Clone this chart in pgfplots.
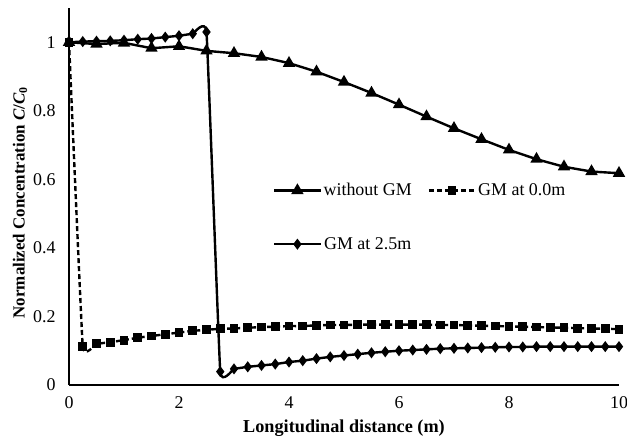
\documentclass[border=0pt]{standalone}
\usepackage{fontspec}
\setmainfont{Liberation Serif}
\usepackage{pgfplots}
\pgfplotsset{compat=1.18}
\begin{document}
\begin{tikzpicture}
\begin{axis}[
 scale only axis, width=550bp, height=377bp,
 xmin=0, xmax=10, ymin=0, ymax=1.1,
 axis x line=bottom, axis y line=left,
 axis line style={line width=1.6bp,-},
 xtick={0,2,4,6,8,10}, ytick={0,0.2,0.4,0.6,0.8,1},
 major tick length=0pt,
 /pgf/number format/assume math mode=true,
 tick label style={font=\fontsize{18}{21}\selectfont},
 yticklabel style={xshift=-10bp},
 xticklabel style={yshift=-8bp},
 xlabel={Longitudinal distance (m)},
 ylabel={Normalized Concentration \textit{C}/\textit{C}\textsubscript{0}},
 xlabel style={font=\fontsize{18.3}{21}\selectfont\bfseries, at={(rel axis cs:0.5,0)}, anchor=base, yshift=-47bp},
 ylabel style={font=\fontsize{17}{20}\selectfont\bfseries, at={(rel axis cs:0,0.5)}, anchor=center, yshift=49bp, xshift=-6bp},
 legend columns=2,
 legend style={at={(axis cs:3.655,0.6)}, anchor=north west, draw=none, fill=none,
   font=\fontsize{18}{21}\selectfont, row sep=36bp,
   /tikz/every even column/.append style={column sep=14bp}},
 legend image code/.code={\draw[mark repeat=2,mark phase=2,#1] plot coordinates {(0bp,0bp)(23bp,0bp)(46bp,0bp)};},
 every axis plot/.append style={line width=2.4bp},
]
\coordinate (ll) at (rel axis cs:0,0);
\coordinate (ur) at (rel axis cs:1,1);
\addplot[black, line width=2.4bp, smooth, tension=0.15, mark=triangle*, mark size=4.8bp, mark options={solid}] coordinates {
(0,1.000)(0.5,0.995)(1,0.998)(1.5,0.983)(2,0.988)(2.5,0.975)(3,0.968)(3.5,0.957)
(4,0.939)(4.5,0.914)(5,0.884)(5.5,0.852)(6,0.818)(6.5,0.783)(7,0.749)(7.5,0.717)
(8,0.686)(8.5,0.659)(9,0.637)(9.5,0.623)(10,0.618)};
\addlegendentry{without GM}
\addplot[black, line width=2.4bp, smooth, tension=0.15, dash pattern=on 5bp off 3bp, mark=square*, mark size=3.2bp, mark options={solid}] coordinates {
(0,1.000)(0.25,0.112)(0.5,0.120)(0.75,0.125)(1,0.131)(1.25,0.138)(1.5,0.143)(1.75,0.148)
(2,0.153)(2.25,0.158)(2.5,0.161)(2.75,0.164)(3,0.165)(3.25,0.167)(3.5,0.169)(3.75,0.170)
(4,0.172)(4.25,0.172)(4.5,0.174)(4.75,0.175)(5,0.175)(5.25,0.176)(5.5,0.176)(5.75,0.176)
(6,0.176)(6.25,0.176)(6.5,0.176)(6.75,0.175)(7,0.175)(7.25,0.174)(7.5,0.173)(7.75,0.172)
(8,0.171)(8.25,0.170)(8.5,0.169)(8.75,0.168)(9,0.167)(9.25,0.166)(9.5,0.165)(9.75,0.164)(10,0.163)};
\addlegendentry{GM at 0.0m}
\addplot[black, line width=2.4bp, smooth, tension=0.15, mark=diamond*, mark size=3.6bp, mark options={solid}] coordinates {
(0,1.000)(0.25,1.002)(0.5,1.003)(0.75,1.004)(1,1.006)(1.25,1.009)(1.5,1.011)(1.75,1.015)
(2,1.019)(2.25,1.025)(2.5,1.030)(2.75,0.039)(3,0.047)(3.25,0.053)(3.5,0.057)(3.75,0.061)
(4,0.067)(4.25,0.071)(4.5,0.077)(4.75,0.082)(5,0.086)(5.25,0.090)(5.5,0.094)(5.75,0.097)
(6,0.100)(6.25,0.102)(6.5,0.104)(6.75,0.106)(7,0.107)(7.25,0.108)(7.5,0.109)(7.75,0.110)
(8,0.111)(8.25,0.111)(8.5,0.112)(8.75,0.112)(9,0.112)(9.25,0.112)(9.5,0.112)(9.75,0.112)(10,0.112)};
\addlegendentry{GM at 2.5m}
\end{axis}
\pgfresetboundingbox
\path[use as bounding box] ([xshift=-69bp,yshift=-56bp]ll) rectangle ([xshift=8bp,yshift=8bp]ur);
\end{tikzpicture}
\end{document}
